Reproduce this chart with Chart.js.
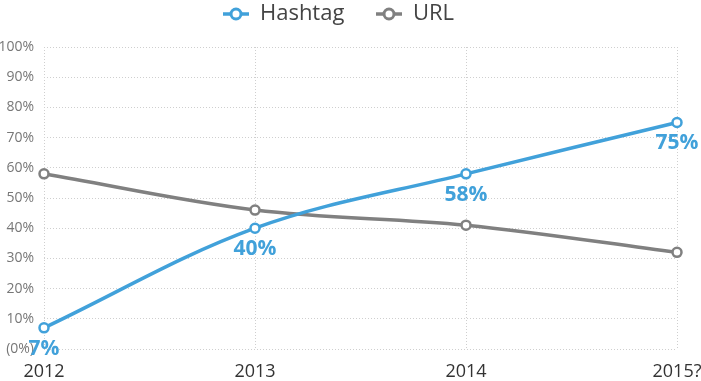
<!DOCTYPE html>
<html><head><meta charset="utf-8">
<script src="https://cdn.jsdelivr.net/npm/chart.js@4.4.0/dist/chart.umd.min.js"></script>
<style>html,body{margin:0;padding:0;background:#fff}#wrap{width:701px;height:381px;position:relative}</style>
</head><body><div id="wrap"><canvas id="c"></canvas></div>
<script>
const years = ['2012', '2013', '2014', '2015?'];
const hashtagValues = [7, 40, 58, 75];
const urlValues = [58, 46, 41, 32];
const yTickLabels = {0:'(0%)',10:'10%',20:'20%',30:'30%',40:'40%',50:'50%',60:'60%',70:'70%',80:'80%',90:'90%',100:'100%'};

const BLUE = '#41a1da', GREY = '#808080';
const FONT = "'Open Sans', 'Noto Sans', sans-serif";

function legendIcon(color){
  const c = document.createElement('canvas');
  c.width = 28; c.height = 16;
  const g = c.getContext('2d');
  g.strokeStyle = color; g.lineWidth = 3.5;
  g.beginPath(); g.moveTo(1,8); g.lineTo(27,8); g.stroke();
  g.fillStyle = '#fff'; g.lineWidth = 3;
  g.beginPath(); g.arc(14,8,5,0,Math.PI*2); g.fill(); g.stroke();
  return c;
}

const labelPlugin = {
  id:'valLabels',
  afterDatasetsDraw(chart){
    const ctx = chart.ctx;
    const meta = chart.getDatasetMeta(0);
    ctx.save();
    ctx.fillStyle = BLUE;
    ctx.font = "bold 21px " + FONT;
    ctx.textAlign = 'center'; ctx.textBaseline = 'middle';
    meta.data.forEach((p,i)=>{
      ctx.fillText(hashtagValues[i] + '%', p.x, p.y + 21);
    });
    ctx.restore();
  }
};

new Chart(document.getElementById('c'), {
  type:'line',
  data:{
    labels: years,
    datasets:[
      {label:'Hashtag', data:hashtagValues, borderColor:BLUE, backgroundColor:'#fff', borderWidth:3.5,
       pointRadius:4.5, pointBorderWidth:2.5, pointBackgroundColor:'#fff', pointBorderColor:BLUE, tension:0.35, pointStyle:'circle'},
      {label:'URL', data:urlValues, borderColor:GREY, backgroundColor:'#fff', borderWidth:3.5,
       pointRadius:4.5, pointBorderWidth:2.5, pointBackgroundColor:'#fff', pointBorderColor:GREY, tension:0.35, pointStyle:'circle'}
    ]
  },
  options:{
    responsive:true, maintainAspectRatio:false, animation:false,
    layout:{padding:{left:0,right:24,top:0,bottom:0}},
    plugins:{
      legend:{
        display:true, position:'top',
        labels:{
          usePointStyle:true, pointStyleWidth:26, padding:3, color:'#444',
          font:{family:FONT, size:22},
          generateLabels(chart){
            return chart.data.datasets.map((ds,i)=>({
              text: i === 0 ? ds.label + '     ' : ds.label,
              pointStyle:legendIcon(ds.borderColor), datasetIndex:i,
              fillStyle:'#fff', strokeStyle:ds.borderColor, lineWidth:0, fontColor:'#444'
            }));
          }
        }
      },
      title:{display:true, text:'', weight:500, position:'top', padding:0, font:{size:10, lineHeight:1.2}},
      tooltip:{enabled:false}
    },
    scales:{
      x:{
        grid:{color:'#cfcfcf', drawTicks:false},
        border:{display:false, dash:[1,2]},
        ticks:{color:'#333', font:{family:FONT, size:18}, padding:12, maxRotation:0},
        afterFit(s){ s.height = 32; s.paddingRight = 0; s.paddingLeft = 0; }
      },
      y:{
        min:0, max:100,
        grid:{color:'#cfcfcf', drawTicks:false},
        border:{display:false, dash:[1,2]},
        ticks:{stepSize:10, color:'#777', font:{family:FONT, size:14}, padding:10,
          callback:(v)=>yTickLabels[v]},
        afterFit(s){ s.width = 44; }
      }
    }
  },
  plugins:[labelPlugin]
});
</script></body></html>
